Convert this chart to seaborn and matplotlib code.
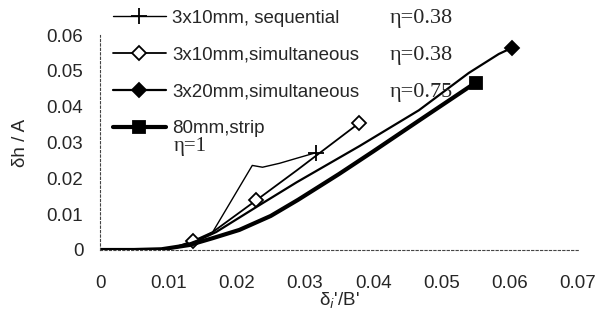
import numpy as np
import pandas as pd
import seaborn as sns
import matplotlib.pyplot as plt

# dados
seq_x = [0, 0.004, 0.008, 0.011, 0.0135, 0.0165, 0.0223, 0.0238, 0.0263, 0.0288, 0.0317]
seq_y = [0, 0.0001, 0, 0.0006, 0.002, 0.005, 0.0236, 0.0231, 0.0242, 0.0256, 0.0272]

sim10_x = [0, 0.004, 0.008, 0.011, 0.0136, 0.0165, 0.0229, 0.0288, 0.038]
sim10_y = [0, 0.0001, 0, 0.0008, 0.0025, 0.005, 0.0139, 0.0222, 0.0355]

sim20_x = [0, 0.005, 0.009, 0.012, 0.0145, 0.017, 0.0229, 0.0288, 0.0380, 0.0467, 0.054, 0.0584, 0.0603]
sim20_y = [0, 0, 0.0001, 0.001, 0.0028, 0.005, 0.012, 0.0189, 0.029, 0.039, 0.0494, 0.0547, 0.0564]

strip_x = [0, 0.005, 0.009, 0.0131, 0.0165, 0.0204, 0.025, 0.029, 0.035, 0.040, 0.0467, 0.055]
strip_y = [0, 0, 0.0002, 0.0014, 0.0033, 0.0056, 0.0095, 0.014, 0.0212, 0.0275, 0.0361, 0.0467]

labels = ['3x10mm, sequential', '3x10mm,simultaneous', '3x20mm,simultaneous', '80mm,strip']
etas = ['η=0.38', 'η=0.38', 'η=0.75', 'η=1']
x_ticks = [0, 0.01, 0.02, 0.03, 0.04, 0.05, 0.06, 0.07]
y_ticks = [0, 0.01, 0.02, 0.03, 0.04, 0.05, 0.06]

sns.set_style('white')
plt.rcParams['font.family'] = ['Liberation Sans', 'DejaVu Sans']

fig = plt.figure(figsize=(6.04, 3.22), dpi=100)
ax = fig.add_axes([100 / 604, 72 / 322, 478 / 604, 215 / 322])

series = [(seq_x, seq_y, 1.0, '+', 'black', 11, [len(seq_x) - 1]),
          (sim10_x, sim10_y, 1.3, 'D', 'white', 7, [4, 6, len(sim10_x) - 1]),
          (sim20_x, sim20_y, 1.6, 'D', 'black', 7, [len(sim20_x) - 1]),
          (strip_x, strip_y, 3.0, 's', 'black', 8, [len(strip_x) - 1])]

for (xs, ys, lw, mk, fc, ms, me), lab in zip(series, labels):
    df = pd.DataFrame({'x': xs, 'y': ys})
    sns.lineplot(data=df, x='x', y='y', ax=ax, color='black', lw=lw, marker=mk,
                 markersize=ms, markerfacecolor=fc, markeredgecolor='black',
                 markeredgewidth=1.3, markevery=me, sort=False, estimator=None, label=lab)

ax.set_xlim(0, 0.07)
ax.set_ylim(0, 0.06)
ax.set_xticks(x_ticks)
ax.set_xticklabels(['0' if t == 0 else f'{t:.2f}' for t in x_ticks])
ax.set_yticks(y_ticks)
ax.set_yticklabels(['0' if t == 0 else f'{t:.2f}' for t in y_ticks])
ax.tick_params(axis='x', length=0, pad=18, labelsize=13.5)
ax.tick_params(axis='y', length=0, pad=12, labelsize=13.5)
for s in ['top', 'right']:
    ax.spines[s].set_visible(False)
for s in ['left', 'bottom']:
    ax.spines[s].set_linestyle((0, (2, 2)))
    ax.spines[s].set_color('#444444')
    ax.spines[s].set_linewidth(0.8)

ax.set_xlabel("δ$_i$'/B'", fontsize=13.5, labelpad=-1)
ax.set_ylabel('δh / A', fontsize=13.5, labelpad=13)

leg = ax.legend(loc='upper left', bbox_to_anchor=(100 / 604, 1.01), bbox_transform=fig.transFigure,
                frameon=False, fontsize=13.5, handlelength=2.8, handletextpad=0.35,
                labelspacing=1.05, borderpad=0.2)

# valores de eta alinhados a direita da legenda
fig.canvas.draw()
r = fig.canvas.get_renderer()
inv = fig.transFigure.inverted()
for i, (t, eta) in enumerate(zip(leg.get_texts(), etas)):
    bb = t.get_window_extent(r)
    x0, y0 = inv.transform((bb.x0, bb.y0))
    x1, y1 = inv.transform((bb.x1, bb.y1))
    if i < 3:
        fig.text(390 / 604, (y0 + y1) / 2, eta, fontsize=16, va='center', ha='left',
                 family=['Liberation Serif', 'DejaVu Serif'])
    else:
        fig.text(x0 + 2 / 604, y0 - 9 / 322, eta, fontsize=15, va='center', ha='left',
                 family=['Liberation Serif', 'DejaVu Serif'])

fig.savefig('out.png', dpi=100)
